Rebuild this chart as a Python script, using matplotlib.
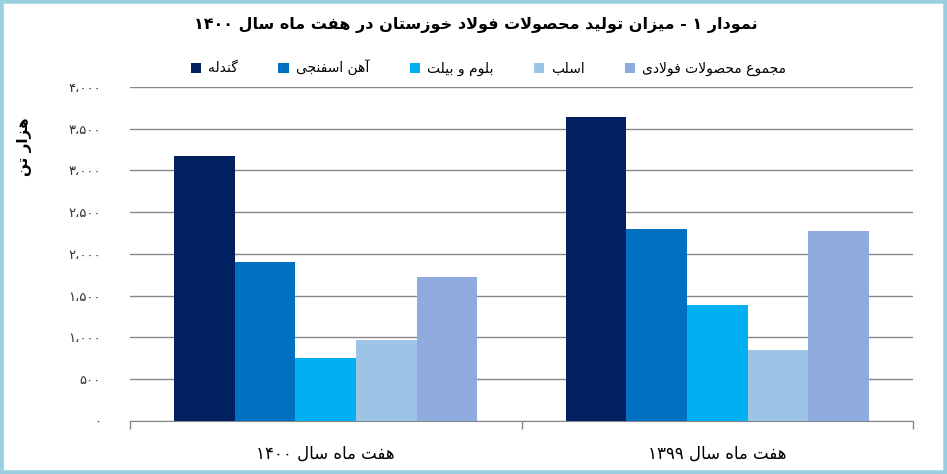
import matplotlib
matplotlib.use("Agg")
import matplotlib.pyplot as plt
from matplotlib.patches import Rectangle
import numpy as np

# data
categories = ["هفت ماه سال ۱۴۰۰", "هفت ماه سال ۱۳۹۹"]
series_names = ["گندله", "آهن اسفنجی", "بلوم و بیلت", "اسلب", "مجموع محصولات فولادی"]
gandole = [3175, 3645]
ahan_esfanji = [1900, 2300]
bloom = [755, 1395]
eslab = [970, 850]
majmoo = [1730, 2275]
colors = ["#002060", "#0070C0", "#00B0F0", "#9DC3E6", "#8FAADC"]
yticks = [0, 500, 1000, 1500, 2000, 2500, 3000, 3500, 4000]
title = "نمودار ۱ - میزان تولید محصولات فولاد خوزستان در هفت ماه سال ۱۴۰۰"
ylabel = "هزار تن"

# minimal persian shaping (presentation forms) since matplotlib does no shaping
FORMS = {
    # isolated, final, initial, medial
    "ا": ("\uFE8D", "\uFE8E", None, None),
    "آ": ("\uFE81", "\uFE82", None, None),
    "ب": ("\uFE8F", "\uFE90", "\uFE91", "\uFE92"),
    "ت": ("\uFE95", "\uFE96", "\uFE97", "\uFE98"),
    "ج": ("\uFE9D", "\uFE9E", "\uFE9F", "\uFEA0"),
    "ح": ("\uFEA1", "\uFEA2", "\uFEA3", "\uFEA4"),
    "خ": ("\uFEA5", "\uFEA6", "\uFEA7", "\uFEA8"),
    "د": ("\uFEA9", "\uFEAA", None, None),
    "ر": ("\uFEAD", "\uFEAE", None, None),
    "ز": ("\uFEAF", "\uFEB0", None, None),
    "س": ("\uFEB1", "\uFEB2", "\uFEB3", "\uFEB4"),
    "ص": ("\uFEB9", "\uFEBA", "\uFEBB", "\uFEBC"),
    "ع": ("\uFEC9", "\uFECA", "\uFECB", "\uFECC"),
    "ف": ("\uFED1", "\uFED2", "\uFED3", "\uFED4"),
    "ل": ("\uFEDD", "\uFEDE", "\uFEDF", "\uFEE0"),
    "م": ("\uFEE1", "\uFEE2", "\uFEE3", "\uFEE4"),
    "ن": ("\uFEE5", "\uFEE6", "\uFEE7", "\uFEE8"),
    "ه": ("\uFEE9", "\uFEEA", "\uFEEB", "\uFEEC"),
    "و": ("\uFEED", "\uFEEE", None, None),
    "ی": ("\uFBFC", "\uFBFD", "\uFBFE", "\uFBFF"),
    "گ": ("\uFB92", "\uFB93", "\uFB94", "\uFB95"),
}
DIGITS = "۰۱۲۳۴۵۶۷۸۹،"


def joins_left(c):
    return c in FORMS and FORMS[c][2] is not None


def fa(text):
    out = []
    i = 0
    n = len(text)
    while i < n:
        c = text[i]
        if c not in FORMS:
            out.append(c)
            i += 1
            continue
        prev_join = i > 0 and joins_left(text[i - 1])
        if c == "ل" and i + 1 < n and text[i + 1] == "ا":
            out.append("\uFEFC" if prev_join else "\uFEFB")
            i += 2
            continue
        nxt = text[i + 1] if i + 1 < n else ""
        next_join = joins_left(c) and nxt in FORMS
        iso, fin, ini, med = FORMS[c]
        if prev_join and next_join:
            out.append(med)
        elif prev_join:
            out.append(fin)
        elif next_join:
            out.append(ini)
        else:
            out.append(iso)
        i += 1
    # visual order: reverse, but keep digit runs left to right
    runs = []
    buf = ""
    for ch in out:
        if ch in DIGITS:
            buf += ch
        else:
            if buf:
                runs.append(buf)
                buf = ""
            runs.append(ch)
    if buf:
        runs.append(buf)
    return "".join(runs[::-1])


def fa_num(v):
    s = f"{v:,}"
    table = str.maketrans("0123456789,", "۰۱۲۳۴۵۶۷۸۹،")
    return s.translate(table)


plt.rcParams["font.family"] = ["DejaVu Sans"]

fig = plt.figure(figsize=(9.47, 4.74), dpi=100)
ax = fig.add_axes([0.1373, 0.1118, 0.8268, 0.7047])

series = [gandole, ahan_esfanji, bloom, eslab, majmoo]
x = np.arange(len(categories))
w = 0.155
for k, vals in enumerate(series):
    ax.bar(x + (k - 2) * w, vals, w, color=colors[k], label=fa(series_names[k]), zorder=3)

ax.set_xlim(-0.5, 1.5)
ax.set_ylim(0, 4000)
ax.set_yticks(yticks)
ax.set_yticklabels([fa_num(v) for v in yticks], fontsize=9.5, color="#333333")
ax.tick_params(axis="y", length=0, pad=21)
ax.yaxis.grid(True, color="#868686", linewidth=1, zorder=0)

ax.set_xticks([-0.5, 0.5, 1.5])
ax.set_xticklabels([])
ax.set_xticks(x, minor=True)
ax.set_xticklabels([fa(c) for c in categories], minor=True, fontsize=12)
ax.tick_params(axis="x", which="major", length=6, color="#868686", width=1)
ax.tick_params(axis="x", which="minor", length=0, pad=17)

for s in ["top", "right", "left"]:
    ax.spines[s].set_visible(False)
ax.spines["bottom"].set_color("#868686")

fig.text(0.502, 0.948, fa(title), ha="center", va="center", fontsize=11.5, fontweight="bold")
fig.text(0.026, 0.69, fa(ylabel), rotation=90, ha="center", va="center", fontsize=11, fontweight="bold")
ax.legend(loc="center", bbox_to_anchor=(0.458, 1.058), ncol=5, frameon=False, fontsize=10,
          handlelength=0.75, handleheight=0.75, handletextpad=0.5, columnspacing=2.9)

fig.patches.append(Rectangle((0.0015, 0.003), 0.997, 0.994, transform=fig.transFigure,
                             fill=False, edgecolor="#9ACFE0", linewidth=4))

fig.savefig("out.png", dpi=100)
